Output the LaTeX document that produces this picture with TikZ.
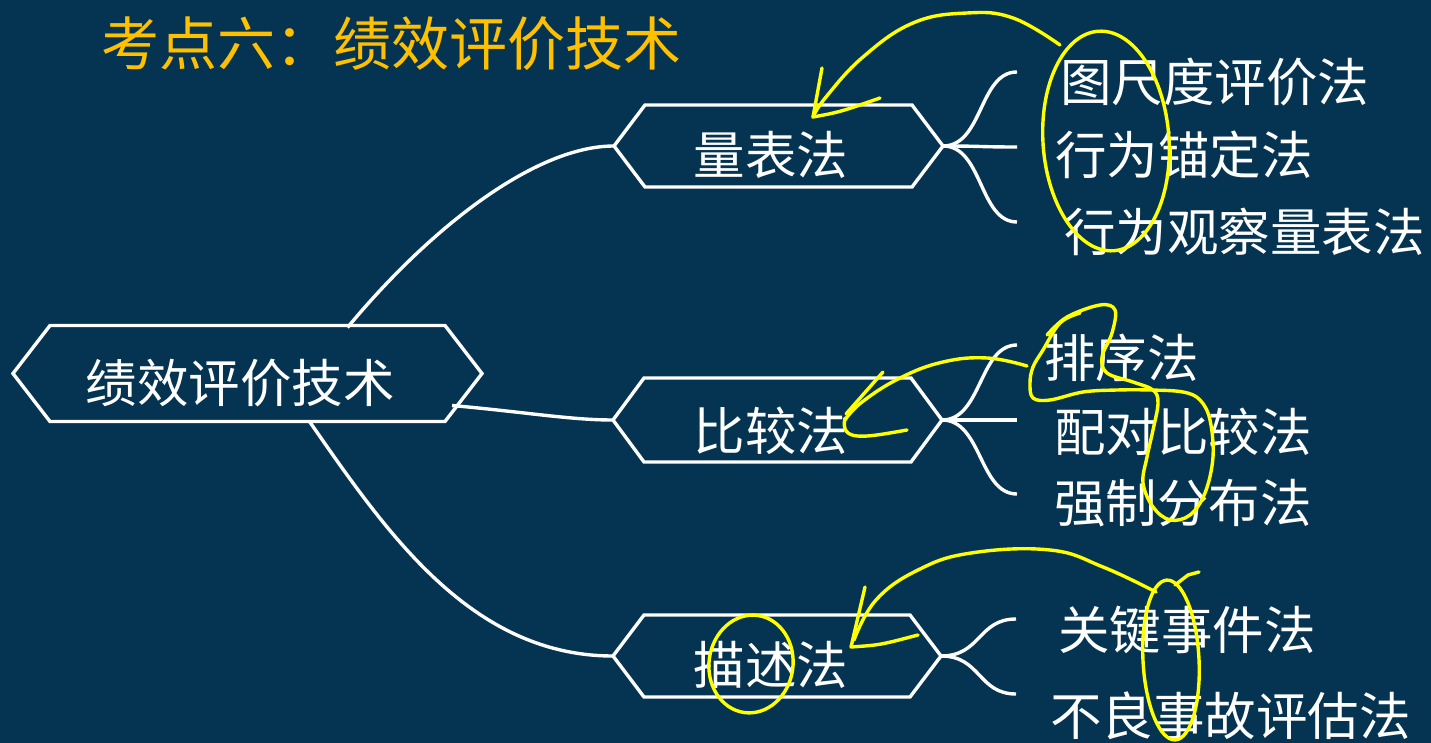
\documentclass[tikz,border=0pt]{standalone}
\usepackage{fontspec}
\setmainfont{Noto Sans CJK SC}
\definecolor{bgc}{RGB}{4,52,81}
\definecolor{ttl}{RGB}{255,192,0}
\definecolor{hl}{RGB}{255,255,0}
\newcommand\hexpath[2]{\draw[wline,line join=miter] (#1.west) -- ([xshift=#2]#1.north west) -- ([xshift=-#2]#1.north east) -- (#1.east) -- ([xshift=-#2]#1.south east) -- ([xshift=#2]#1.south west) -- cycle;}
\begin{document}
\begin{tikzpicture}[x=1pt,y=-1pt,
  wline/.style={draw=white,line width=3.4pt},
  hlline/.style={draw=hl,line width=3.4pt,line cap=round,line join=round},
  hexbox/.style={draw=none,inner sep=0pt,outer sep=0pt},
  lbl/.style={text=white,inner sep=0pt,font=\fontsize{51.5}{60}\selectfont},
  leaf/.style={lbl,anchor=west}]
\fill[bgc] (0,0) rectangle (1431,743);
\useasboundingbox (0,0) rectangle (1431,743);
% title
\node[anchor=west,text=ttl,inner sep=0pt,font=\fontsize{58}{64}\selectfont] (title) at (101,44) {考点六：绩效评价技术};
% hexagon nodes
\node[hexbox,minimum width=469pt,minimum height=96pt] (main) at (247.5,373.5) {};
\node[hexbox,minimum width=329pt,minimum height=82pt] (q1) at (778.5,146) {};
\node[hexbox,minimum width=329pt,minimum height=84pt] (q2) at (777.5,420) {};
\node[hexbox,minimum width=328pt,minimum height=82pt] (q3) at (777,656) {};
\hexpath{main}{37}
\hexpath{q1}{31}
\hexpath{q2}{31}
\hexpath{q3}{31}
\node[lbl] (t0) at (240,383) {绩效评价技术};
\node[lbl] (t1) at (771,155) {量表法};
\node[lbl] (t2) at (771,431) {比较法};
\node[lbl] (t3) at (771,665) {描述法};
% main connectors
\draw[wline] ([shift={(100,2)}]main.north) .. controls (430,228) and (535,146) .. (q1.west);
\draw[wline] ([shift={(-30,32)}]main.east) .. controls (525,412) and (570,420) .. (q2.west);
\draw[wline] ([shift={(62,0)}]main.south) .. controls (385,530) and (470,656) .. (q3.west);
% branch end points
\coordinate (e11) at (1017,72);
\coordinate (e12) at (1017,147);
\coordinate (e13) at (1017,222);
\coordinate (e21) at (1017,345);
\coordinate (e22) at (1017,420);
\coordinate (e23) at (1017,494);
\coordinate (e31) at (1016,619);
\coordinate (e32) at (1016,694);
\foreach \e in {e11,e12,e13}{\draw[wline] (q1.east) .. controls +(40,0) and +(-38,0) .. (\e);}
\foreach \e in {e21,e22,e23}{\draw[wline] (q2.east) .. controls +(40,0) and +(-38,0) .. (\e);}
\foreach \e in {e31,e32}{\draw[wline] (q3.east) .. controls +(40,0) and +(-38,0) .. (\e);}
% leaves
\node[leaf] (l11) at (1060,82) {图尺度评价法};
\node[leaf] (l12) at (1055,155) {行为锚定法};
\node[leaf] (l13) at (1064,232) {行为观察量表法};
\node[leaf] (l21) at (1044,358) {排序法};
\node[leaf] (l22) at (1054,432) {配对比较法};
\node[leaf] (l23) at (1054,503) {强制分布法};
\node[leaf] (l31) at (1058,630) {关键事件法};
\node[leaf] (l32) at (1050,716) {不良事故评估法};
% yellow annotations
\draw[hlline] plot[smooth,tension=0.7] coordinates {(1060,45) (1013,18) (967,13) (913,23) (863,57) (826,97) (813,117)};
\draw[hlline] (822,68) -- (813,117) .. controls (840,112) .. (880,98);
\draw[hlline,rotate around={4:(1106,141)}] (1106,141) ellipse[x radius=63,y radius=110];
\draw[hlline] plot[smooth,tension=0.6] coordinates {(1047,335) (1067,317) (1100,305) (1115,310) (1112,333) (1102,357) (1107,373) (1133,382) (1153,390) (1158,403) (1153,430) (1147,457) (1143,483) (1153,507) (1170,520) (1190,515) (1205,493) (1213,457) (1210,420) (1200,400) (1183,392) (1150,390) (1117,390) (1083,392) (1050,400) (1033,398) (1030,383) (1033,367) (1043,350) (1060,323) (1080,313)};
\draw[hlline] plot[smooth,tension=0.7] coordinates {(1027,366) (987,358) (943,362) (900,378) (862,402) (845,420)};
\draw[hlline] (845,418) .. controls (840,442) and (862,438) .. (907,430);
\draw[hlline] (883,372) -- (846,414);
\draw[hlline] plot[smooth,tension=0.7] coordinates {(1156,592) (1103,567) (1050,550) (971,553) (918,570) (876,600) (854,640)};
\draw[hlline] (865,587) -- (851,647) .. controls (880,645) .. (918,635);
\draw[hlline,rotate around={-8:(751,664)}] (751,664) ellipse[x radius=42,y radius=49];
\draw[hlline,rotate around={3:(1171,660)}] (1171,660) ellipse[x radius=28,y radius=80];
\draw[hlline] (1175,585) -- (1188,575) -- (1199,572);
\end{tikzpicture}
\end{document}
